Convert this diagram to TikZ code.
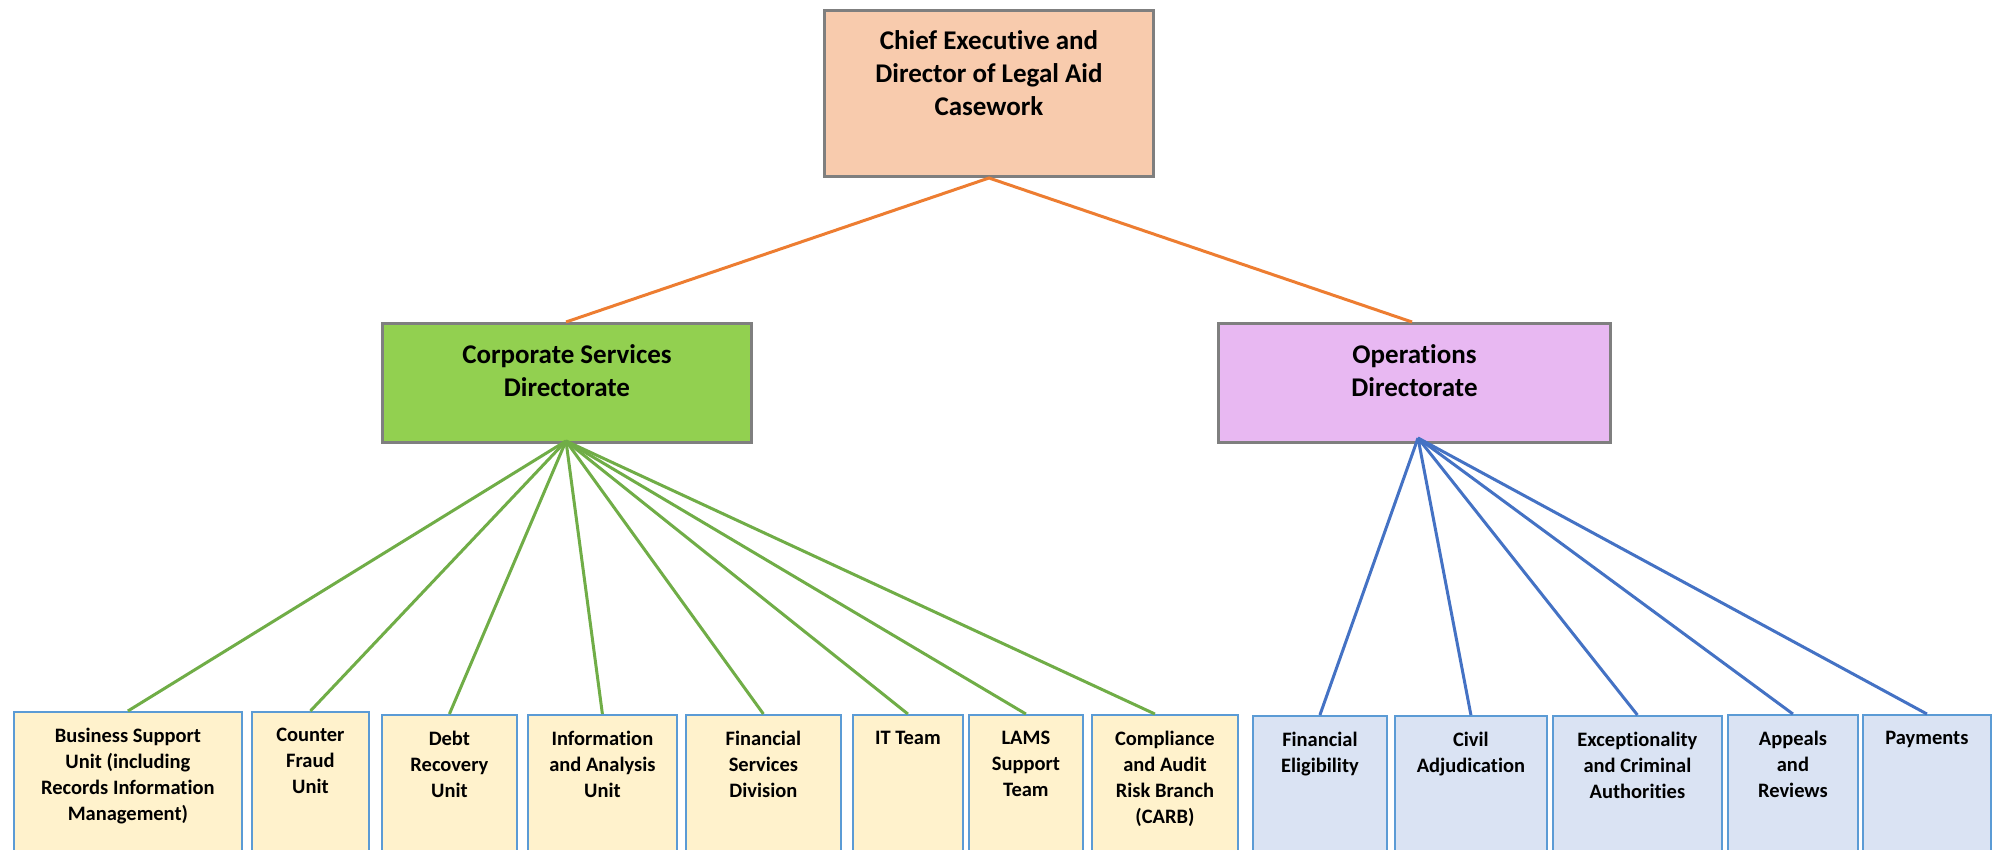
\documentclass[tikz,border=0pt]{standalone}
\usepackage{fontspec}
\setmainfont[RawFeature=-liga]{Carlito}
\definecolor{boxgray}{HTML}{7F7F7F}
\definecolor{peach}{HTML}{F8CBAD}
\definecolor{corpgreen}{HTML}{92D050}
\definecolor{lilac}{HTML}{E8B8F2}
\definecolor{paleyellow}{HTML}{FFF2CC}
\definecolor{paleblue}{HTML}{DAE3F3}
\definecolor{thinblue}{HTML}{5B9BD5}
\definecolor{linegreen}{HTML}{70AD47}
\definecolor{lineblue}{HTML}{4472C4}
\definecolor{lineorange}{HTML}{ED7D31}
\begin{document}
\begin{tikzpicture}[x=1pt,y=-1pt,
  bigbox/.style={draw=boxgray, line width=3pt, anchor=north west, inner sep=0pt},
  smallbox/.style={draw=thinblue, line width=1.8pt, anchor=north west, inner sep=0pt, minimum height=170pt},
  bigtext/.style={anchor=north, align=center, inner sep=0pt, font=\bfseries\fontsize{27}{33}\selectfont},
  smalltext/.style={anchor=north, align=center, inner sep=0pt, font=\bfseries\fontsize{20.5}{26}\selectfont},
  orangeline/.style={draw=lineorange, line width=3pt},
  greenline/.style={draw=linegreen, line width=3pt},
  blueline/.style={draw=lineblue, line width=3pt}
]
\useasboundingbox (0,0) rectangle (1993,850);
\clip (0,0) rectangle (1993,850);

% top level
\node[bigbox, fill=peach, minimum width=329pt, minimum height=166pt] (ceo) at (823,9) {};
\node[bigtext] (ceot) at ([yshift=-21pt]ceo.north) {Chief Executive and\\Director of Legal Aid\\Casework};

\node[bigbox, fill=corpgreen, minimum width=369pt, minimum height=119pt] (corp) at (381,322) {};
\node[bigtext] (corpt) at ([yshift=-22pt]corp.north) {Corporate Services\\Directorate};

\node[bigbox, fill=lilac, minimum width=392pt, minimum height=119pt] (ops) at (1217,322) {};
\node[bigtext] (opst) at ([yshift=-22pt]ops.north) {Operations\\Directorate};

\coordinate (corptop) at (566,322);
\coordinate (opstop) at (1412,322);
\coordinate (corpbot) at (566,441);
\coordinate (opsbot) at (1418,438);

\draw[orangeline] (corptop) -- (ceo.south) -- (opstop);

% corporate units
\node[smallbox, fill=paleyellow, minimum width=228pt] (b1) at (13,711) {};
\node[smallbox, fill=paleyellow, minimum width=117pt] (b2) at (251,711) {};
\node[smallbox, fill=paleyellow, minimum width=135pt] (b3) at (381,714) {};
\node[smallbox, fill=paleyellow, minimum width=149pt] (b4) at (527,714) {};
\node[smallbox, fill=paleyellow, minimum width=155pt] (b5) at (685,714) {};
\node[smallbox, fill=paleyellow, minimum width=110pt] (b6) at (852,714) {};
\node[smallbox, fill=paleyellow, minimum width=114pt] (b7) at (968,714) {};
\node[smallbox, fill=paleyellow, minimum width=146pt] (b8) at (1091,714) {};

\node[smalltext] (b1t) at ([yshift=-17pt]b1.north) {Business Support\\Unit (including\\Records Information\\Management)};
\node[smalltext] (b2t) at ([yshift=-17pt]b2.north) {Counter\\Fraud\\Unit};
\node[smalltext] (b3t) at ([yshift=-17pt]b3.north) {Debt\\Recovery\\Unit};
\node[smalltext] (b4t) at ([yshift=-17pt]b4.north) {Information\\and Analysis\\Unit};
\node[smalltext] (b5t) at ([yshift=-17pt]b5.north) {Financial\\Services\\Division};
\node[smalltext] (b6t) at ([yshift=-17pt]b6.north) {IT Team};
\node[smalltext] (b7t) at ([yshift=-17pt]b7.north) {LAMS\\Support\\Team};
\node[smalltext] (b8t) at ([yshift=-17pt]b8.north) {Compliance\\and Audit\\Risk Branch\\(CARB)};

% operations units
\node[smallbox, fill=paleblue, minimum width=134pt] (c1) at (1252,715) {};
\node[smallbox, fill=paleblue, minimum width=152pt] (c2) at (1394,715) {};
\node[smallbox, fill=paleblue, minimum width=169pt] (c3) at (1552,715) {};
\node[smallbox, fill=paleblue, minimum width=130pt] (c4) at (1727,714) {};
\node[smallbox, fill=paleblue, minimum width=128pt] (c5) at (1862,714) {};

\node[smalltext] (c1t) at ([yshift=-17pt]c1.north) {Financial\\Eligibility};
\node[smalltext] (c2t) at ([yshift=-17pt]c2.north) {Civil\\Adjudication};
\node[smalltext] (c3t) at ([yshift=-17pt]c3.north) {Exceptionality\\and Criminal\\Authorities};
\node[smalltext] (c4t) at ([yshift=-17pt]c4.north) {Appeals\\and\\Reviews};
\node[smalltext] (c5t) at ([yshift=-17pt]c5.north) {Payments};

\coordinate (b8attach) at ([xshift=-10pt]b8.north);

% connectors
\foreach \n in {b1,b2,b3,b4,b5,b6,b7}
  \draw[greenline] (corpbot) -- (\n.north);
\draw[greenline] (corpbot) -- (b8attach);
\foreach \n in {c1,c2,c3,c4,c5}
  \draw[blueline] (opsbot) -- (\n.north);
\end{tikzpicture}
\end{document}
